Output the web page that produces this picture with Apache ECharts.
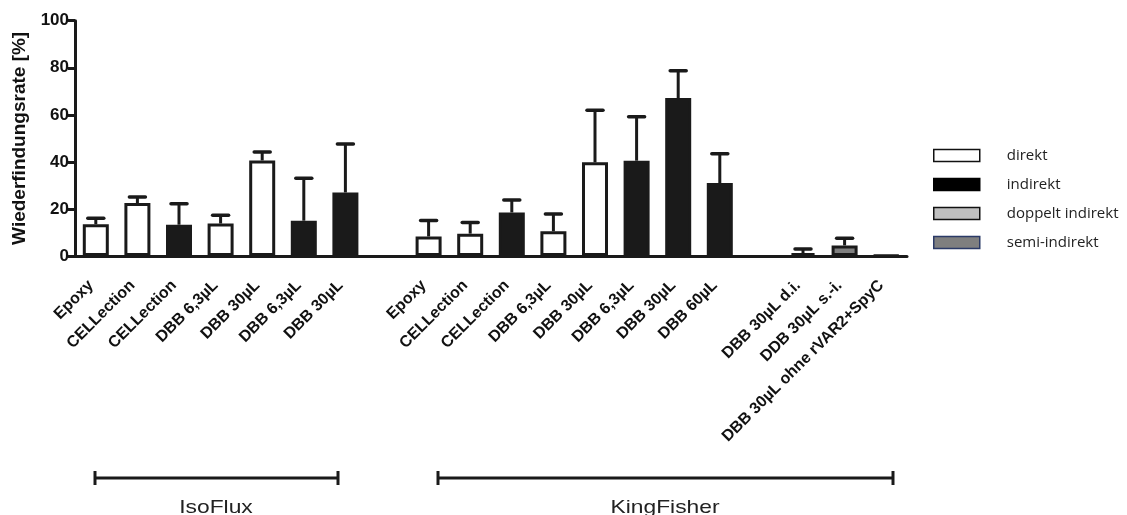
<!DOCTYPE html>
<html><head><meta charset="utf-8">
<script src="https://cdn.jsdelivr.net/npm/echarts@6/dist/echarts.min.js"></script>
<style>html,body{margin:0;padding:0;background:#fff}#c{width:1127px;height:515px}</style>
</head><body><div id="c"></div>
<script>
const categories = ['Epoxy','CELLection','CELLection','DBB 6,3µL','DBB 30µL','DBB 6,3µL','DBB 30µL','',
  'Epoxy','CELLection','CELLection','DBB 6,3µL','DBB 30µL','DBB 6,3µL','DBB 30µL','DBB 60µL','',
  'DBB 30µL d.i.','DDB 30µL s.-i.','DBB 30µL ohne rVAR2+SpyC'];
const direkt          = [13.5,22.5,null,13.8,40.6,null,null,null, 8.3,9.5,null,10.5,39.8,null,null,null, null,null,null,null];
const indirekt        = [null,null,13.3,null,null,15.0,27.0,null, null,null,18.5,null,null,40.5,67.1,31.0, null,null,null,0.3];
const doppeltIndirekt = [null,null,null,null,null,null,null,null, null,null,null,null,null,null,null,null, null,1.2,null,null];
const semiIndirekt    = [null,null,null,null,null,null,null,null, null,null,null,null,null,null,null,null, null,null,4.5,null];
const errorSD         = [2.5,2.6,8.9,3.5,3.6,18.0,20.6,null, 6.8,4.7,5.3,7.4,22.1,18.7,11.6,12.5, null,1.8,3.0,null];
const seriesNames = ['direkt','indirekt','doppelt indirekt','semi-indirekt'];
const yMin = 0, yMax = 100, yStep = 20;
const groupLabels = ['IsoFlux','KingFisher'];

const means = categories.map((c,i)=> direkt[i] ?? indirekt[i] ?? doppeltIndirekt[i] ?? semiIndirekt[i]);
const errData = [];
means.forEach((m,i)=>{ if (m!=null && errorSD[i]!=null) errData.push([i, m, m+errorSD[i]]); });

const INK = '#1a1a1a';
const FONT = 'Liberation Sans';
function barSeries(name, data, color){
  return {name, type:'bar', data, barWidth:26, barGap:'-100%',
    itemStyle:{color, borderColor:INK, borderWidth:3}, z:2};
}
const chart = echarts.init(document.getElementById('c'), null, {renderer:'canvas'});
chart.setOption({
  animation:false,
  backgroundColor:'#fff',
  grid:{left:75, right:220, top:20.7, bottom:259, outerBoundsMode:'none'},
  legend:{
    orient:'vertical', left:928, top:143, itemWidth:46, itemHeight:12, itemGap:14,
    icon:'rect',
    textStyle:{fontFamily:'Open Sans', fontSize:15, color:'#222', lineHeight:12, padding:[0,0,0,22]},
    data:[
      {name:'direkt', itemStyle:{color:'#fff', borderColor:'#111', borderWidth:1.5}},
      {name:'indirekt', itemStyle:{color:'#000', borderColor:'#000', borderWidth:1.5}},
      {name:'doppelt indirekt', itemStyle:{color:'#c0c0c0', borderColor:'#111', borderWidth:1.5}},
      {name:'semi-indirekt', itemStyle:{color:'#7f7f7f', borderColor:'#2b3a67', borderWidth:1.5}}
    ]
  },
  xAxis:{
    type:'category', data:categories,
    axisLine:{lineStyle:{color:INK, width:3}},
    axisTick:{alignWithLabel:true, interval:0, length:7, lineStyle:{color:INK, width:3}},
    axisLabel:{interval:0, rotate:45, margin:22, padding:[0,7,0,0], fontFamily:FONT, fontWeight:'bold', fontSize:16, color:'#111'}
  },
  yAxis:{
    type:'value', min:yMin, max:yMax, interval:yStep,
    name:'Wiederfindungsrate [%]', nameLocation:'middle', nameGap:43,
    nameTextStyle:{fontFamily:FONT, fontWeight:'bold', fontSize:19, color:'#111'},
    axisLine:{show:true, lineStyle:{color:INK, width:3}},
    axisTick:{show:true, length:7, lineStyle:{color:INK, width:3}},
    axisLabel:{margin:6, fontFamily:FONT, fontWeight:'bold', fontSize:17, color:'#111'},
    splitLine:{show:false}
  },
  series:[
    barSeries(seriesNames[0], direkt, '#ffffff'),
    barSeries(seriesNames[1], indirekt, INK),
    barSeries(seriesNames[2], doppeltIndirekt, '#c0c0c0'),
    barSeries(seriesNames[3], semiIndirekt, '#808080'),
    {type:'custom', data:errData, z:1, encode:{x:0, y:[1,2]},
     renderItem(params, api){
       const x = api.value(0), m = api.value(1), t = api.value(2);
       const p0 = api.coord([x, m]), p1 = api.coord([x, t]);
       return {type:'group', children:[
         {type:'line', shape:{x1:p0[0], y1:p0[1], x2:p1[0], y2:p1[1]}, style:{stroke:INK, lineWidth:3}},
         {type:'line', shape:{x1:p1[0]-8, y1:p1[1], x2:p1[0]+8, y2:p1[1]}, style:{stroke:INK, lineWidth:3.5, lineCap:'round'}}
       ]};
     }}
  ],
  graphic:[
    {type:'line', shape:{x1:95, y1:478, x2:338, y2:478}, style:{stroke:INK, lineWidth:3}},
    {type:'line', shape:{x1:95, y1:471, x2:95, y2:485}, style:{stroke:INK, lineWidth:3}},
    {type:'line', shape:{x1:338, y1:471, x2:338, y2:485}, style:{stroke:INK, lineWidth:3}},
    {type:'line', shape:{x1:438, y1:478, x2:893, y2:478}, style:{stroke:INK, lineWidth:3}},
    {type:'line', shape:{x1:438, y1:471, x2:438, y2:485}, style:{stroke:INK, lineWidth:3}},
    {type:'line', shape:{x1:893, y1:471, x2:893, y2:485}, style:{stroke:INK, lineWidth:3}},
    {type:'text', x:216, y:508, scaleX:1.2, style:{text:groupLabels[0], font:'19px "Liberation Sans"', fill:'#222', textAlign:'center', textVerticalAlign:'middle'}},
    {type:'text', x:665, y:508, scaleX:1.2, style:{text:groupLabels[1], font:'19px "Liberation Sans"', fill:'#222', textAlign:'center', textVerticalAlign:'middle'}}
  ]
});
</script>
</body></html>
